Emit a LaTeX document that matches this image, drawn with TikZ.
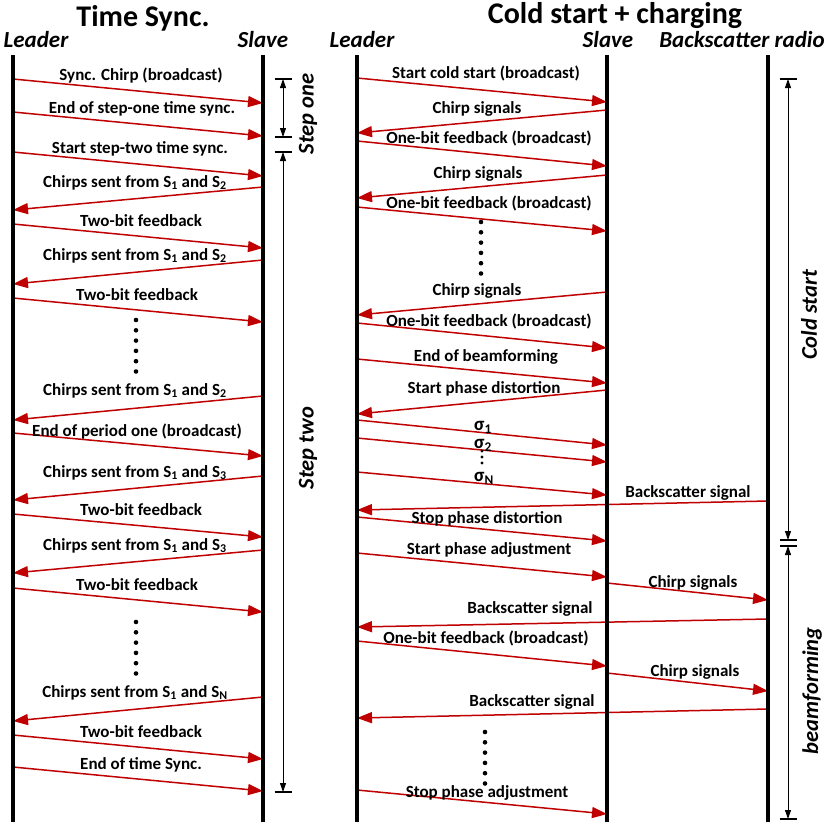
\documentclass[tikz,border=0pt]{standalone}
\usepackage{fontspec}
\setmainfont{Carlito}
\usetikzlibrary{arrows.meta}
\definecolor{msgred}{RGB}{192,0,0}
\newcommand{\msg}[8]{%
  \coordinate (#1s) at (#2,#3);
  \coordinate (#1e) at (#4,#5);
  \draw[msgarrow] (#1s) -- (#1e);
  \node[msglabel] (#1l) at (#7,#8) {#6};}
\newcommand{\sdots}[3]{%
  \foreach \k in {0,...,5} {\fill (#2,#3+\k*10.3) circle (2.3pt);}}
\newcommand{\sig}[1]{{\fontsize{19}{20}\selectfont σ\textsubscript{#1}}}
\begin{document}
\begin{tikzpicture}[x=1pt,y=-1pt,
  lifeline/.style={line width=3.6pt, black},
  msgarrow/.style={draw=msgred, line width=1.5pt, -{Triangle[length=15pt,width=11pt,fill=msgred]}},
  msglabel/.style={font=\fontsize{17}{19}\selectfont\bfseries, inner sep=0pt, anchor=mid, yshift=-3pt},
  siglabel/.style={msglabel, text height=8pt, text depth=2pt},
  title/.style={font=\fontsize{30}{34}\selectfont\bfseries, inner sep=0pt},
  header/.style={font=\fontsize{23}{26}\selectfont\bfseries\itshape, inner sep=0pt},
  annot/.style={font=\fontsize{22.5}{26}\selectfont\bfseries\itshape, inner sep=0pt, rotate=90},
  span/.style={line width=0.9pt, {Triangle[length=9pt,width=6pt]}-{Triangle[length=9pt,width=6pt]}},
  barline/.style={line width=1.2pt}
]
\useasboundingbox (0,0) rectangle (830,830);
\def\LA{13}\def\LB{263}\def\RA{357}\def\RB{607}\def\RC{768}

% titles and headers
\node[title] (t1) at (143,18) {Time Sync.};
\node[title] (t2) at (615,16) {Cold start + charging};
\node[header] (h1) at (36,40) {Leader};
\node[header] (h2) at (263,40) {Slave};
\node[header] (h3) at (362,40) {Leader};
\node[header] (h4) at (608,40) {Slave};
\node[header] (h5) at (742,40) {Backscatter radio};

% left messages
\msg{a1}{\LA}{79}{\LB}{103}{Sync. Chirp (broadcast)}{141}{75}
\msg{a2}{\LA}{112}{\LB}{136}{End of step-one time sync.}{142}{108}
\msg{a3}{\LA}{152}{\LB}{176}{Start step-two time sync.}{140}{148}
\msg{a4}{\LB}{187}{\LA}{210}{Chirps sent from S\textsubscript{1} and S\textsubscript{2}}{135}{182}
\msg{a5}{\LA}{224}{\LB}{248}{Two-bit feedback}{141}{221}
\msg{a6}{\LB}{260}{\LA}{284}{Chirps sent from S\textsubscript{1} and S\textsubscript{2}}{135}{255}
\msg{a7}{\LA}{298}{\LB}{322}{Two-bit feedback}{137}{295}
\msg{a8}{\LB}{396}{\LA}{420}{Chirps sent from S\textsubscript{1} and S\textsubscript{2}}{135}{390}
\msg{a9}{\LA}{433}{\LB}{456}{End of period one (broadcast)}{137}{431}
\msg{a10}{\LB}{476}{\LA}{500}{Chirps sent from S\textsubscript{1} and S\textsubscript{3}}{135}{472}
\msg{a11}{\LA}{514}{\LB}{537}{Two-bit feedback}{141}{510}
\msg{a12}{\LB}{550}{\LA}{573}{Chirps sent from S\textsubscript{1} and S\textsubscript{3}}{135}{545}
\msg{a13}{\LA}{588}{\LB}{612}{Two-bit feedback}{137}{585}
\msg{a14}{\LB}{697}{\LA}{721}{Chirps sent from S\textsubscript{1} and S\textsubscript{N}}{135}{692}
\msg{a15}{\LA}{735}{\LB}{759}{Two-bit feedback}{141}{732}
\msg{a16}{\LA}{767}{\LB}{791}{End of time Sync.}{141}{764}
\sdots{d1}{136}{320}
\sdots{d2}{136}{622}

% right messages
\msg{b1}{\RA}{78}{\RB}{102}{Start cold start (broadcast)}{486}{73}
\msg{b2}{\RB}{110}{\RA}{133}{Chirp signals}{477}{108}
\msg{b3}{\RA}{141}{\RB}{166}{One-bit feedback (broadcast)}{489}{138}
\msg{b4}{\RB}{175}{\RA}{198}{Chirp signals}{478}{173}
\msg{b5}{\RA}{207}{\RB}{231}{One-bit feedback (broadcast)}{489}{203}
\msg{b6}{\RB}{292}{\RA}{315}{Chirp signals}{477}{290}
\msg{b7}{\RA}{323}{\RB}{348}{One-bit feedback (broadcast)}{489}{321}
\msg{b8}{\RA}{359}{\RB}{383}{End of beamforming}{486}{356}
\msg{b9}{\RB}{390}{\RA}{414}{Start phase distortion}{484}{388}
\coordinate (b10s) at (\RA,420); \coordinate (b10e) at (\RB,445);
\draw[msgarrow] (b10s) -- (b10e);
\node[siglabel] (b10l) at (483,425) {\sig{1}};
\coordinate (b11s) at (\RA,438); \coordinate (b11e) at (\RB,462);
\draw[msgarrow] (b11s) -- (b11e);
\node[siglabel] (b11l) at (483,443) {\sig{2}};
\coordinate (b12s) at (\RA,472); \coordinate (b12e) at (\RB,495);
\draw[msgarrow] (b12s) -- (b12e);
\node[siglabel] (b12l) at (484,476) {\sig{N}};
\msg{b13}{\RC}{501}{\RA}{510}{Backscatter signal}{688}{492}
\msg{b14}{\RA}{517}{\RB}{541}{Stop phase distortion}{487}{518}
\msg{b15}{\RA}{553}{\RB}{577}{Start phase adjustment}{489}{549}
\msg{b16}{\RB}{583}{\RC}{600}{Chirp signals}{693}{582}
\msg{b17}{\RC}{619}{\RA}{627}{Backscatter signal}{530}{608}
\msg{b18}{\RA}{641}{\RB}{666}{One-bit feedback (broadcast)}{486}{638}
\msg{b19}{\RB}{673}{\RC}{691}{Chirp signals}{695}{671}
\msg{b20}{\RC}{709}{\RA}{718}{Backscatter signal}{532}{701}
\msg{b21}{\RA}{790}{\RB}{814}{Stop phase adjustment}{487}{792}
\sdots{d3}{481}{222}
\sdots{d4}{485}{732}
\foreach \yy in {451,457,463} {\fill (482,\yy) circle (1.6pt);}

% lifelines
\coordinate (L1t) at (\LA,55); \coordinate (L1b) at (\LA,822);
\coordinate (L2t) at (\LB,55); \coordinate (L2b) at (\LB,822);
\coordinate (R1t) at (\RA,55); \coordinate (R1b) at (\RA,822);
\coordinate (R2t) at (\RB,55); \coordinate (R2b) at (\RB,822);
\coordinate (R3t) at (\RC,55); \coordinate (R3b) at (\RC,822);
\draw[lifeline] (L1t) -- (L1b);
\draw[lifeline] (L2t) -- (L2b);
\draw[lifeline] (R1t) -- (R1b);
\draw[lifeline] (R2t) -- (R2b);
\draw[lifeline] (R3t) -- (R3b);

% phase spans
\coordinate (s1a) at (283,79);  \coordinate (s1b) at (283,137);
\coordinate (s2a) at (283,152); \coordinate (s2b) at (283,792);
\coordinate (c1a) at (788,79);  \coordinate (c1b) at (788,540);
\coordinate (c2a) at (788,546); \coordinate (c2b) at (788,819);
\foreach \c in {s1a,s1b,s2a,s2b,c1a,c1b,c2a,c2b}
  {\draw[barline] (\c) ++(-8.5,0) -- ++(17,0);}
\draw[span] (s1a) -- (s1b);
\draw[span] (s2a) -- (s2b);
\draw[span] (c1a) -- (c1b);
\draw[span] (c2a) -- (c2b);
\node[annot] (n1) at (308,114) {Step one};
\node[annot] (n2) at (308,448) {Step two};
\node[annot] (n3) at (809,315) {Cold start};
\node[annot] (n4) at (812,691) {beamforming};
\end{tikzpicture}
\end{document}
